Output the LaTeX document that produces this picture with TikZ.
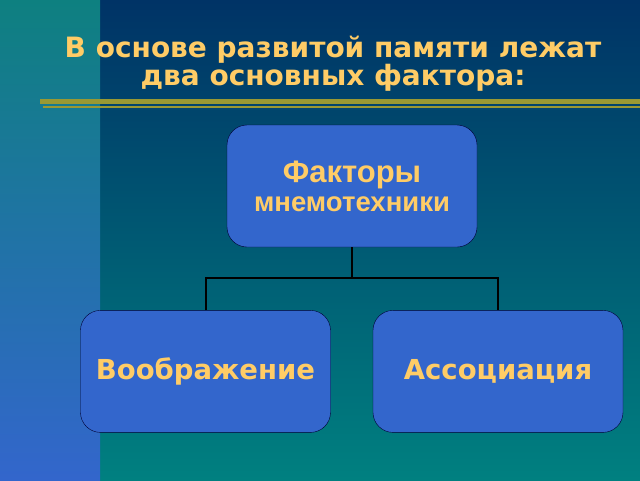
\documentclass[tikz,border=0pt]{standalone}
\usepackage{fontspec}
\newfontfamily\verdfont{DejaVu Sans}
\newfontfamily\arialfont{Liberation Sans}
\usepackage{tikz}
\usetikzlibrary{positioning,calc}
\definecolor{navy}{RGB}{0,51,102}
\definecolor{seateal}{RGB}{0,128,128}
\definecolor{stripteal}{RGB}{14,128,128}
\definecolor{stripblue}{RGB}{51,102,204}
\definecolor{boxblue}{RGB}{51,102,204}
\definecolor{gold}{RGB}{255,204,102}
\definecolor{olive}{RGB}{153,153,51}
\tikzset{block/.style={draw=black!80!blue,fill=boxblue,rounded corners=20pt,
                       minimum width=250pt,minimum height=122pt,align=center,
                       text=gold,font=\verdfont\bfseries\fontsize{27.5}{30}\selectfont},
         line/.style={line width=2pt,black}
}
\begin{document}
\begin{tikzpicture}[x=1pt,y=-1pt]

% background
\shade[top color=navy,bottom color=seateal] (0,0) rectangle (640,480);
\shade[top color=stripteal,bottom color=stripblue] (0,0) rectangle (100,480);
\useasboundingbox (0,0) rectangle (640,480);

% title
\node[text=gold,align=center,font=\verdfont\bfseries\fontsize{28}{28}\selectfont] (title) at (333,64) {В основе развитой памяти лежат\\два основных фактора:};
\fill[olive] (40,99) rectangle (640,104);
\fill[olive] (43,106) rectangle (640,108);

\node[block,font=\arialfont\bfseries\fontsize{27.5}{29}\selectfont] (factors) at (352,186) {{\fontsize{31}{31}\selectfont Факторы}\\мнемотехники};
\node[block,below=63pt of factors,xshift=-146.5pt] (imag) {Воображение};
\node[block,below=63pt of factors,xshift=146pt] (assoc) {Ассоциация};
\coordinate[below=31pt of factors] (fork);
\draw[line] (factors.south)--(fork);
\draw[line] (imag.north)|-(fork)-|(assoc.north);

\end{tikzpicture}
\end{document}
